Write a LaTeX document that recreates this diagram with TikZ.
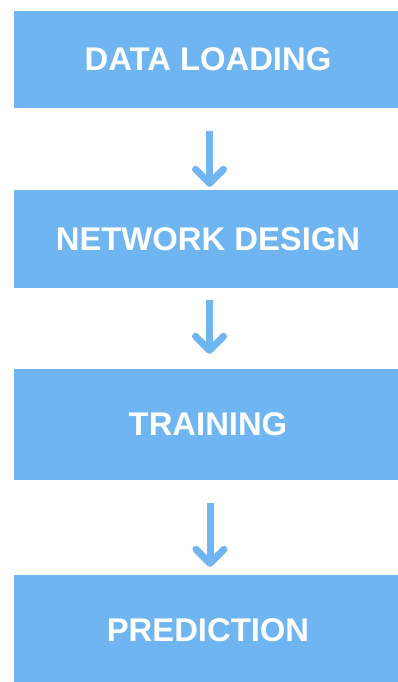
\documentclass[tikz,border=0pt]{standalone}
\usepackage{fontspec}
\setmainfont{Liberation Sans}
\usetikzlibrary{arrows.meta}

\definecolor{stageblue}{RGB}{110,181,242}

\begin{document}
\begin{tikzpicture}[
        x=1pt, y=-1pt,
        stage/.style={fill=stageblue, minimum width=388pt, inner sep=0pt,
            text=white, font=\fontsize{32.8}{38}\selectfont\bfseries},
        flow/.style={-{Straight Barb[length=14pt, width=28pt, round]},
            draw=stageblue, line width=7pt}
    ]

        \useasboundingbox (0,0) rectangle (398,682);

        % pipeline stages
        \node[stage, minimum height=97pt]  (load)    at (208,59.5) {DATA LOADING};
        \node[stage, minimum height=98pt]  (design)  at (208,239)  {NETWORK DESIGN};
        \node[stage, minimum height=111pt] (train)   at (208,424.5) {TRAINING};
        \node[stage, minimum height=110pt] (predict) at (208,630)  {PREDICTION};

        % arrows between stages
        \draw[flow, shorten <=23pt, shorten >=3pt] ([xshift=1.5pt]load.south) -- ([xshift=1.5pt]design.north);
        \draw[flow, shorten <=12pt, shorten >=15pt] ([xshift=1.5pt]design.south) -- ([xshift=1.5pt]train.north);
        \draw[flow, shorten <=23pt, shorten >=8pt] ([xshift=2pt]train.south) -- ([xshift=2pt]predict.north);

    \end{tikzpicture}
\end{document}
